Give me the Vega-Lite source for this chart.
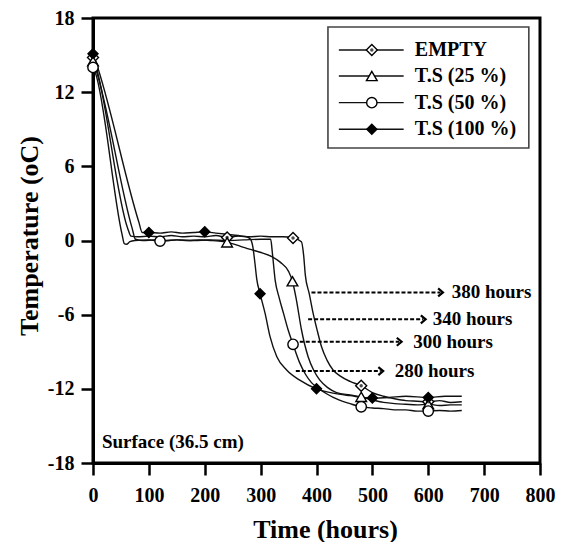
{
  "$schema": "https://vega.github.io/schema/vega-lite/v6.json",
  "width": 447,
  "height": 445,
  "autosize": {"type": "none"},
  "padding": {"left": 93, "top": 18, "right": 23, "bottom": 79},
  "background": "white",
  "config": {
    "view": {"stroke": "black", "strokeWidth": 3},
    "font": "Liberation Serif",
    "axis": {
      "grid": false,
      "domainColor": "black",
      "domainWidth": 3,
      "tickColor": "black",
      "tickWidth": 2.5,
      "tickSize": 12,
      "labelFont": "Liberation Serif",
      "labelFontWeight": "bold",
      "labelFontSize": 20,
      "labelColor": "black",
      "labelFlush": false,
      "labelOverlap": false,
      "titleFont": "Liberation Serif",
      "titleFontWeight": "bold",
      "titleFontSize": 26,
      "titleColor": "black"
    }
  },
  "datasets": {
    "curves": [
      {"s":"EMPTY","t":0,"v":14.8},{"s":"EMPTY","t":4,"v":14.3},{"s":"EMPTY","t":62,"v":1.0},{"s":"EMPTY","t":68,"v":0.35},{"s":"EMPTY","t":80,"v":0.3},{"s":"EMPTY","t":100,"v":0.35},{"s":"EMPTY","t":120,"v":0.3},{"s":"EMPTY","t":140,"v":0.4},{"s":"EMPTY","t":160,"v":0.3},{"s":"EMPTY","t":180,"v":0.35},{"s":"EMPTY","t":200,"v":0.3},{"s":"EMPTY","t":220,"v":0.4},{"s":"EMPTY","t":240,"v":0.25},{"s":"EMPTY","t":260,"v":0.35},{"s":"EMPTY","t":280,"v":0.3},{"s":"EMPTY","t":300,"v":0.35},{"s":"EMPTY","t":320,"v":0.3},{"s":"EMPTY","t":340,"v":0.3},{"s":"EMPTY","t":358,"v":0.2},{"s":"EMPTY","t":373,"v":-0.1},{"s":"EMPTY","t":377,"v":-1.2},{"s":"EMPTY","t":380,"v":-2.8},{"s":"EMPTY","t":387,"v":-4.3},{"s":"EMPTY","t":394,"v":-5.9},{"s":"EMPTY","t":402,"v":-7.4},{"s":"EMPTY","t":409,"v":-8.6},{"s":"EMPTY","t":419,"v":-9.7},{"s":"EMPTY","t":430,"v":-10.5},{"s":"EMPTY","t":442,"v":-10.95},{"s":"EMPTY","t":460,"v":-11.4},{"s":"EMPTY","t":480,"v":-11.75},{"s":"EMPTY","t":500,"v":-12.3},{"s":"EMPTY","t":520,"v":-12.6},{"s":"EMPTY","t":540,"v":-12.8},{"s":"EMPTY","t":560,"v":-12.95},{"s":"EMPTY","t":580,"v":-13.0},{"s":"EMPTY","t":600,"v":-13.05},{"s":"EMPTY","t":620,"v":-12.95},{"s":"EMPTY","t":640,"v":-13.1},{"s":"EMPTY","t":660,"v":-13.05},
      {"s":"T.S (25 %)","t":0,"v":14.5},{"s":"T.S (25 %)","t":4,"v":14.0},{"s":"T.S (25 %)","t":70,"v":1.0},{"s":"T.S (25 %)","t":76,"v":0.1},{"s":"T.S (25 %)","t":90,"v":0.0},{"s":"T.S (25 %)","t":110,"v":0.05},{"s":"T.S (25 %)","t":130,"v":0.0},{"s":"T.S (25 %)","t":150,"v":0.05},{"s":"T.S (25 %)","t":170,"v":0.0},{"s":"T.S (25 %)","t":190,"v":0.05},{"s":"T.S (25 %)","t":210,"v":0.0},{"s":"T.S (25 %)","t":225,"v":-0.05},{"s":"T.S (25 %)","t":240,"v":-0.15},{"s":"T.S (25 %)","t":263,"v":-0.45},{"s":"T.S (25 %)","t":280,"v":-0.7},{"s":"T.S (25 %)","t":299,"v":-0.95},{"s":"T.S (25 %)","t":320,"v":-1.3},{"s":"T.S (25 %)","t":335,"v":-1.75},{"s":"T.S (25 %)","t":350,"v":-2.5},{"s":"T.S (25 %)","t":357,"v":-3.3},{"s":"T.S (25 %)","t":364,"v":-4.8},{"s":"T.S (25 %)","t":373,"v":-7.2},{"s":"T.S (25 %)","t":385,"v":-9.4},{"s":"T.S (25 %)","t":395,"v":-10.5},{"s":"T.S (25 %)","t":406,"v":-11.3},{"s":"T.S (25 %)","t":420,"v":-11.9},{"s":"T.S (25 %)","t":436,"v":-12.3},{"s":"T.S (25 %)","t":460,"v":-12.5},{"s":"T.S (25 %)","t":480,"v":-12.65},{"s":"T.S (25 %)","t":500,"v":-12.9},{"s":"T.S (25 %)","t":520,"v":-13.1},{"s":"T.S (25 %)","t":540,"v":-13.2},{"s":"T.S (25 %)","t":560,"v":-13.25},{"s":"T.S (25 %)","t":580,"v":-13.3},{"s":"T.S (25 %)","t":600,"v":-13.25},{"s":"T.S (25 %)","t":620,"v":-13.35},{"s":"T.S (25 %)","t":640,"v":-13.3},{"s":"T.S (25 %)","t":660,"v":-13.3},
      {"s":"T.S (50 %)","t":0,"v":14.0},{"s":"T.S (50 %)","t":4,"v":13.6},{"s":"T.S (50 %)","t":52,"v":0.5},{"s":"T.S (50 %)","t":56,"v":-0.25},{"s":"T.S (50 %)","t":60,"v":-0.3},{"s":"T.S (50 %)","t":66,"v":-0.1},{"s":"T.S (50 %)","t":75,"v":0.0},{"s":"T.S (50 %)","t":100,"v":0.05},{"s":"T.S (50 %)","t":120,"v":-0.05},{"s":"T.S (50 %)","t":150,"v":0.05},{"s":"T.S (50 %)","t":180,"v":0.0},{"s":"T.S (50 %)","t":210,"v":0.05},{"s":"T.S (50 %)","t":240,"v":0.0},{"s":"T.S (50 %)","t":270,"v":0.05},{"s":"T.S (50 %)","t":300,"v":0.1},{"s":"T.S (50 %)","t":318,"v":0.1},{"s":"T.S (50 %)","t":321,"v":-1.0},{"s":"T.S (50 %)","t":326,"v":-3.2},{"s":"T.S (50 %)","t":333,"v":-4.6},{"s":"T.S (50 %)","t":341,"v":-5.9},{"s":"T.S (50 %)","t":349,"v":-7.2},{"s":"T.S (50 %)","t":358,"v":-8.4},{"s":"T.S (50 %)","t":370,"v":-9.9},{"s":"T.S (50 %)","t":380,"v":-10.8},{"s":"T.S (50 %)","t":391,"v":-11.5},{"s":"T.S (50 %)","t":405,"v":-12.0},{"s":"T.S (50 %)","t":418,"v":-12.4},{"s":"T.S (50 %)","t":440,"v":-12.9},{"s":"T.S (50 %)","t":460,"v":-13.2},{"s":"T.S (50 %)","t":480,"v":-13.45},{"s":"T.S (50 %)","t":500,"v":-13.55},{"s":"T.S (50 %)","t":520,"v":-13.6},{"s":"T.S (50 %)","t":540,"v":-13.7},{"s":"T.S (50 %)","t":560,"v":-13.7},{"s":"T.S (50 %)","t":580,"v":-13.8},{"s":"T.S (50 %)","t":600,"v":-13.8},{"s":"T.S (50 %)","t":620,"v":-13.75},{"s":"T.S (50 %)","t":640,"v":-13.8},{"s":"T.S (50 %)","t":660,"v":-13.75},
      {"s":"T.S (100 %)","t":0,"v":15.1},{"s":"T.S (100 %)","t":4,"v":14.6},{"s":"T.S (100 %)","t":82,"v":1.5},{"s":"T.S (100 %)","t":88,"v":0.65},{"s":"T.S (100 %)","t":100,"v":0.65},{"s":"T.S (100 %)","t":120,"v":0.6},{"s":"T.S (100 %)","t":140,"v":0.7},{"s":"T.S (100 %)","t":160,"v":0.6},{"s":"T.S (100 %)","t":180,"v":0.65},{"s":"T.S (100 %)","t":200,"v":0.7},{"s":"T.S (100 %)","t":220,"v":0.6},{"s":"T.S (100 %)","t":240,"v":0.5},{"s":"T.S (100 %)","t":260,"v":0.4},{"s":"T.S (100 %)","t":275,"v":0.3},{"s":"T.S (100 %)","t":282,"v":0.1},{"s":"T.S (100 %)","t":286,"v":-0.5},{"s":"T.S (100 %)","t":290,"v":-1.9},{"s":"T.S (100 %)","t":293,"v":-3.1},{"s":"T.S (100 %)","t":299,"v":-4.3},{"s":"T.S (100 %)","t":308,"v":-5.9},{"s":"T.S (100 %)","t":317,"v":-7.8},{"s":"T.S (100 %)","t":329,"v":-9.4},{"s":"T.S (100 %)","t":347,"v":-10.5},{"s":"T.S (100 %)","t":370,"v":-11.3},{"s":"T.S (100 %)","t":400,"v":-12.0},{"s":"T.S (100 %)","t":430,"v":-12.35},{"s":"T.S (100 %)","t":460,"v":-12.55},{"s":"T.S (100 %)","t":500,"v":-12.75},{"s":"T.S (100 %)","t":530,"v":-12.7},{"s":"T.S (100 %)","t":560,"v":-12.6},{"s":"T.S (100 %)","t":600,"v":-12.7},{"s":"T.S (100 %)","t":630,"v":-12.6},{"s":"T.S (100 %)","t":660,"v":-12.6}
    ],
    "markers": [
      {"s":"EMPTY","t":0,"v":14.8},{"s":"EMPTY","t":240,"v":0.25},{"s":"EMPTY","t":358,"v":0.2},{"s":"EMPTY","t":480,"v":-11.75},{"s":"EMPTY","t":600,"v":-13.05},
      {"s":"T.S (25 %)","t":0,"v":14.5},{"s":"T.S (25 %)","t":240,"v":-0.15},{"s":"T.S (25 %)","t":357,"v":-3.3},{"s":"T.S (25 %)","t":480,"v":-12.65},{"s":"T.S (25 %)","t":600,"v":-13.25},
      {"s":"T.S (50 %)","t":0,"v":14.0},{"s":"T.S (50 %)","t":120,"v":-0.05},{"s":"T.S (50 %)","t":358,"v":-8.4},{"s":"T.S (50 %)","t":480,"v":-13.45},{"s":"T.S (50 %)","t":600,"v":-13.8},
      {"s":"T.S (100 %)","t":0,"v":15.1},{"s":"T.S (100 %)","t":100,"v":0.65},{"s":"T.S (100 %)","t":200,"v":0.7},{"s":"T.S (100 %)","t":299,"v":-4.3},{"s":"T.S (100 %)","t":400,"v":-12.0},{"s":"T.S (100 %)","t":500,"v":-12.75},{"s":"T.S (100 %)","t":600,"v":-12.7}
    ],
    "arrows": [
      {"label":"380 hours","v":-4.2,"a":391,"b":622,"tx":642},
      {"label":"340 hours","v":-6.38,"a":385,"b":591,"tx":608},
      {"label":"300 hours","v":-8.19,"a":370,"b":548,"tx":573},
      {"label":"280 hours","v":-10.56,"a":363,"b":515,"tx":540}
    ],
    "legendbox": [{"a":420.5,"b":780,"v1":17.27,"v2":7.48}],
    "legend": [
      {"s":"EMPTY","v":15.41,"a":440,"b":556,"m":499,"tx":576},
      {"s":"T.S (25 %)","v":13.31,"a":440,"b":556,"m":499,"tx":576},
      {"s":"T.S (50 %)","v":11.15,"a":440,"b":556,"m":499,"tx":576},
      {"s":"T.S (100 %)","v":9.0,"a":440,"b":556,"m":499,"tx":576}
    ],
    "note": [{"label":"Surface (36.5 cm)","t":16,"v":-16.3}]
  },
  "layer": [
    {
      "data": {"name": "curves"},
      "mark": {"type": "line", "stroke": "#111", "strokeWidth": 1.4, "interpolate": "monotone"},
      "encoding": {
        "x": {"field": "t", "type": "quantitative", "title": "Time (hours)",
          "scale": {"domain": [0, 800], "nice": false, "zero": false},
          "axis": {"values": [0,50,100,150,200,250,300,350,400,450,500,550,600,650,700,750,800],
            "labelExpr": "datum.value % 100 == 0 ? '' + datum.value : ''",
            "labelPadding": 10,
            "titleX": 232, "titleY": 74, "titleBaseline": "alphabetic", "titleAlign": "center"}},
        "y": {"field": "v", "type": "quantitative", "title": "Temperature (oC)",
          "scale": {"domain": [-18, 18], "nice": false, "zero": false},
          "axis": {"values": [-18,-15,-12,-9,-6,-3,0,3,6,9,12,15,18],
            "labelExpr": "datum.value % 6 == 0 ? '' + datum.value : ''",
            "labelPadding": 7,
            "titleX": -56, "titleY": 217.5, "titleBaseline": "alphabetic", "titleAlign": "center", "titleAngle": -90}},
        "detail": {"field": "s"}
      }
    },
    {
      "data": {"name": "markers"},
      "mark": {"type": "point", "filled": true, "stroke": "black", "strokeWidth": 1.4, "opacity": 1},
      "encoding": {
        "x": {"field": "t", "type": "quantitative", "title": "Time (hours)"},
        "y": {"field": "v", "type": "quantitative", "title": "Temperature (oC)"},
        "shape": {"field": "s", "type": "nominal", "legend": null,
          "scale": {"domain": ["EMPTY","T.S (25 %)","T.S (50 %)","T.S (100 %)"], "range": ["diamond","triangle-up","circle","diamond"]}},
        "fill": {"field": "s", "type": "nominal", "legend": null,
          "scale": {"domain": ["EMPTY","T.S (25 %)","T.S (50 %)","T.S (100 %)"], "range": ["white","white","white","black"]}},
        "size": {"field": "s", "type": "nominal", "legend": null,
          "scale": {"domain": ["EMPTY","T.S (25 %)","T.S (50 %)","T.S (100 %)"], "range": [121, 100, 170, 140]}},
        "order": {"field": "s", "sort": "ascending"}
      }
    },
    {
      "data": {"name": "markers"},
      "transform": [{"filter": "datum.s == 'EMPTY'"}],
      "mark": {"type": "point", "shape": "circle", "filled": true, "fill": "black", "size": 12},
      "encoding": {
        "x": {"field": "t", "type": "quantitative", "title": "Time (hours)"},
        "y": {"field": "v", "type": "quantitative", "title": "Temperature (oC)"}
      }
    },
    {
      "data": {"name": "arrows"},
      "mark": {"type": "rule", "stroke": "black", "strokeWidth": 2, "strokeDash": [4, 2]},
      "encoding": {
        "x": {"field": "a", "type": "quantitative", "title": "Time (hours)"},
        "x2": {"field": "b"},
        "y": {"field": "v", "type": "quantitative", "title": "Temperature (oC)"}
      }
    },
    {
      "data": {"name": "arrows"},
      "mark": {"type": "point", "shape": "M-0.6,-1L0.6,0L-0.6,1", "filled": false, "stroke": "black", "strokeWidth": 2.2, "size": 64, "opacity": 1},
      "encoding": {
        "x": {"field": "b", "type": "quantitative", "title": "Time (hours)"},
        "y": {"field": "v", "type": "quantitative", "title": "Temperature (oC)"}
      }
    },
    {
      "data": {"name": "arrows"},
      "mark": {"type": "text", "align": "left", "baseline": "middle", "font": "Liberation Serif", "fontWeight": "bold", "fontSize": 19, "fill": "black"},
      "encoding": {
        "x": {"field": "tx", "type": "quantitative", "title": "Time (hours)"},
        "y": {"field": "v", "type": "quantitative", "title": "Temperature (oC)"},
        "text": {"field": "label"}
      }
    },
    {
      "data": {"name": "legendbox"},
      "mark": {"type": "rect", "filled": false, "stroke": "#444", "strokeWidth": 1.6},
      "encoding": {
        "x": {"field": "a", "type": "quantitative", "title": "Time (hours)"},
        "x2": {"field": "b"},
        "y": {"field": "v1", "type": "quantitative", "title": "Temperature (oC)"},
        "y2": {"field": "v2"}
      }
    },
    {
      "data": {"name": "legend"},
      "mark": {"type": "rule", "stroke": "#111", "strokeWidth": 1.4},
      "encoding": {
        "x": {"field": "a", "type": "quantitative", "title": "Time (hours)"},
        "x2": {"field": "b"},
        "y": {"field": "v", "type": "quantitative", "title": "Temperature (oC)"}
      }
    },
    {
      "data": {"name": "legend"},
      "mark": {"type": "point", "filled": true, "stroke": "black", "strokeWidth": 1.4, "opacity": 1},
      "encoding": {
        "x": {"field": "m", "type": "quantitative", "title": "Time (hours)"},
        "y": {"field": "v", "type": "quantitative", "title": "Temperature (oC)"},
        "shape": {"field": "s", "type": "nominal", "legend": null},
        "fill": {"field": "s", "type": "nominal", "legend": null},
        "size": {"field": "s", "type": "nominal", "legend": null}
      }
    },
    {
      "data": {"name": "legend"},
      "transform": [{"filter": "datum.s == 'EMPTY'"}],
      "mark": {"type": "point", "shape": "circle", "filled": true, "fill": "black", "size": 12},
      "encoding": {
        "x": {"field": "m", "type": "quantitative", "title": "Time (hours)"},
        "y": {"field": "v", "type": "quantitative", "title": "Temperature (oC)"}
      }
    },
    {
      "data": {"name": "legend"},
      "mark": {"type": "text", "align": "left", "baseline": "middle", "font": "Liberation Serif", "fontWeight": "bold", "fontSize": 20, "fill": "black"},
      "encoding": {
        "x": {"field": "tx", "type": "quantitative", "title": "Time (hours)"},
        "y": {"field": "v", "type": "quantitative", "title": "Temperature (oC)"},
        "text": {"field": "s"}
      }
    },
    {
      "data": {"name": "note"},
      "mark": {"type": "text", "align": "left", "baseline": "middle", "font": "Liberation Serif", "fontWeight": "bold", "fontSize": 19, "fill": "black"},
      "encoding": {
        "x": {"field": "t", "type": "quantitative", "title": "Time (hours)"},
        "y": {"field": "v", "type": "quantitative", "title": "Temperature (oC)"},
        "text": {"field": "label"}
      }
    }
  ]
}
